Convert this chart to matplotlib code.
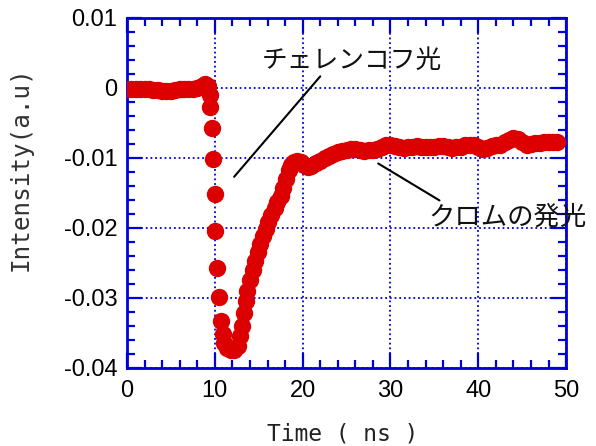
import matplotlib
matplotlib.use("Agg")
import matplotlib.pyplot as plt
from matplotlib.ticker import MultipleLocator

# ---- data ----
time_ns = [0.0, 0.5, 1.0, 1.5, 2.0, 2.5, 3.0, 3.5, 4.0, 4.5, 5.0, 5.5, 6.0, 6.5,
           7.0, 7.5, 8.0, 8.5, 8.9, 9.2, 9.4, 9.5, 9.7, 9.8, 10.0, 10.0, 10.3,
           10.5, 10.7, 10.9, 11.1, 11.4, 11.8, 12.2, 12.6, 12.9, 13.1, 13.3,
           13.5, 13.7, 14.0, 14.3, 14.6, 14.9, 15.2, 15.5, 15.8, 16.1, 16.4,
           16.8, 17.1, 17.5, 17.8, 18.1, 18.4, 18.7, 19.0, 19.4, 19.8, 20.2,
           20.6, 21.0, 21.5, 22.0, 22.5, 23.0, 23.5, 24.0, 24.5, 25.0, 25.5,
           26.0, 26.5, 27.0, 27.5, 28.0, 28.5, 29.0, 29.5, 30.0, 30.5, 31.0,
           31.5, 32.0, 32.5, 33.0, 33.5, 34.0, 34.5, 35.0, 35.5, 36.0, 36.5,
           37.0, 37.5, 38.0, 38.5, 39.0, 39.5, 40.0, 40.5, 41.0, 41.5, 42.0,
           42.5, 43.0, 43.5, 44.0, 44.5, 45.0, 45.5, 46.0, 46.5, 47.0, 47.5,
           48.0, 48.5, 49.0]
intensity = [-0.0001, -0.0001, -0.0001, -0.0002, -0.0002, -0.0002, -0.0003,
             -0.0003, -0.0004, -0.0005, -0.0004, -0.0003, -0.0002, -0.0001,
             -0.0002, -0.0001, 0.0000, 0.0002, 0.0005, 0.0003, -0.0010,
             -0.0028, -0.0058, -0.0101, -0.0152, -0.0204, -0.0257, -0.0298,
             -0.0333, -0.0352, -0.0364, -0.0371, -0.0374, -0.0374, -0.0368,
             -0.0355, -0.0340, -0.0322, -0.0305, -0.0290, -0.0275, -0.0260,
             -0.0247, -0.0235, -0.0223, -0.0212, -0.0201, -0.0192, -0.0182,
             -0.0172, -0.0163, -0.0154, -0.0143, -0.0130, -0.0118, -0.0110,
             -0.0106, -0.0104, -0.0106, -0.0110, -0.0113, -0.0112, -0.0108,
             -0.0104, -0.0100, -0.0097, -0.0095, -0.0092, -0.0090, -0.0089,
             -0.0088, -0.0088, -0.0089, -0.0090, -0.0089, -0.0089, -0.0088,
             -0.0085, -0.0082, -0.0081, -0.0083, -0.0085, -0.0086, -0.0085,
             -0.0084, -0.0083, -0.0084, -0.0085, -0.0085, -0.0084, -0.0083,
             -0.0083, -0.0085, -0.0086, -0.0085, -0.0084, -0.0082, -0.0081,
             -0.0082, -0.0085, -0.0088, -0.0086, -0.0083, -0.0082, -0.0081,
             -0.0078, -0.0075, -0.0072, -0.0073, -0.0078, -0.0082, -0.0080,
             -0.0079, -0.0079, -0.0078, -0.0078, -0.0077, -0.0077]

x_ticks = [0, 10, 20, 30, 40, 50]
x_tick_labels = ["0", "10", "20", "30", "40", "50"]
y_ticks = [0.01, 0.0, -0.01, -0.02, -0.03, -0.04]
y_tick_labels = ["0.01", "0", "-0.01", "-0.02", "-0.03", "-0.04"]

cherenkov_label = "チェレンコフ光"
chromium_label = "クロムの発光"

BLUE = "#0000d8"
RED = "#dd0000"

fig = plt.figure(figsize=(5.96, 4.46), dpi=100)
ax = fig.add_axes([0.213, 0.175, 0.737, 0.785])

ax.plot(time_ns, intensity, linestyle="none", marker="o", markersize=11.5,
        color=RED, markeredgecolor=RED, zorder=3)

ax.set_xlim(0, 50)
ax.set_ylim(-0.04, 0.01)
ax.set_xticks(x_ticks)
ax.set_xticklabels(x_tick_labels, fontfamily="Liberation Sans", fontsize=17)
ax.set_yticks(y_ticks)
ax.set_yticklabels(y_tick_labels, fontfamily="Liberation Sans", fontsize=17)
ax.xaxis.set_minor_locator(MultipleLocator(2))
ax.yaxis.set_minor_locator(MultipleLocator(0.002))

ax.tick_params(which="both", direction="in", top=True, right=True,
               color=BLUE, width=1.6)
ax.tick_params(which="major", length=11)
ax.tick_params(which="minor", length=6)
ax.tick_params(axis="x", which="major", pad=9)
ax.tick_params(axis="y", which="major", pad=7)

for side in ax.spines.values():
    side.set_color(BLUE)
    side.set_linewidth(2)

ax.grid(True, which="major", color=BLUE, linestyle=(0, (1, 1.6)), linewidth=1.3)

ax.set_xlabel("Time ( ns )", fontfamily="DejaVu Sans Mono", fontsize=16.5,
              color="#222222")
ax.set_ylabel("Intensity(a.u)", fontfamily="DejaVu Sans Mono", fontsize=17.5,
              color="#333333")
ax.yaxis.set_label_coords(-0.215, 0.57)
ax.xaxis.set_label_coords(0.49, -0.155)

jp_font = ["Noto Sans CJK JP", "DejaVu Sans"]
ax.annotate(cherenkov_label, xy=(12.2, -0.0127), xytext=(15.3, 0.0039),
            fontfamily=jp_font, fontsize=18.5, color="#111111",
            ha="left", va="center",
            arrowprops=dict(arrowstyle="-", color="black", lw=1.5,
                            shrinkA=0, shrinkB=0,
                            relpos=(0.34, 0.0)))
ax.annotate(chromium_label, xy=(28.6, -0.0108), xytext=(34.3, -0.0184),
            fontfamily=jp_font, fontsize=19, color="#111111",
            ha="left", va="center",
            arrowprops=dict(arrowstyle="-", color="black", lw=1.5,
                            shrinkA=0, shrinkB=0,
                            relpos=(0.1, 1.0)))

fig.savefig("out.png", dpi=100)
